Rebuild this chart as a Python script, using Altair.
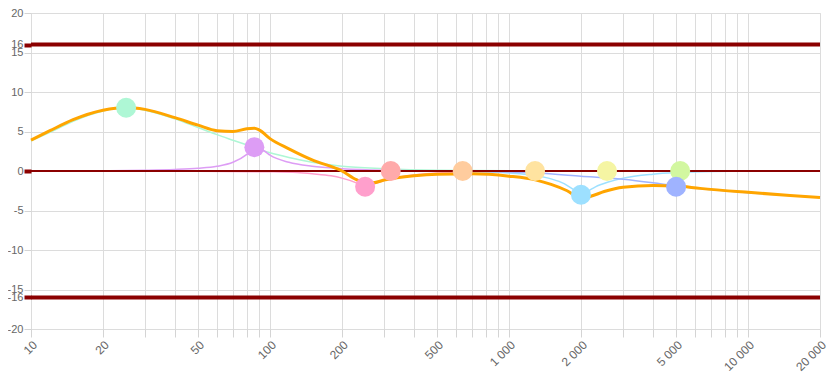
import altair as alt
import pandas as pd

# ---- data ----
band_names = ["b1", "b2", "b3", "b4", "b5", "b6", "b7", "b8", "b9", "b10"]
band_colors = ["#aef7d5", "#dd9df5", "#ff9fcc", "#ffaaaa", "#ffcc9e",
               "#ffe3a0", "#9de0ff", "#f5f5a3", "#d2f7a0", "#9fb3ff"]
band_freq = [25, 86, 250, 320, 640, 1285, 2000, 2570, 5200, 5000]
band_gain = [8, 3, -2, 0, 0, 0, -3, 0, 0, -2]

b1_f = [10, 12, 15, 20, 25, 30, 40, 50, 60, 70, 80, 100, 120, 150, 200, 300, 500, 1000, 20000]
b1_g = [3.8, 4.9, 6.3, 7.6, 8.0, 7.7, 6.6, 5.5, 4.6, 3.9, 3.3, 2.3, 1.7, 1.1, 0.6, 0.3, 0.1, 0.03, 0]

b2_f = [10, 20, 30, 40, 50, 60, 70, 80, 86, 95, 100, 120, 150, 200, 300, 500, 20000]
b2_g = [0, 0.03, 0.1, 0.2, 0.35, 0.6, 1.1, 2.1, 3.0, 2.5, 2.0, 1.1, 0.6, 0.3, 0.1, 0.02, 0]

b3_f = [10, 50, 100, 130, 150, 180, 200, 230, 250, 275, 300, 350, 400, 500, 700, 1000, 20000]
b3_g = [0, -0.02, -0.1, -0.2, -0.35, -0.6, -0.9, -1.5, -2.0, -1.6, -1.2, -0.75, -0.5, -0.25, -0.1, -0.04, 0]

flat_f = [10, 20000]
flat_g = [0, 0]

b7_f = [10, 500, 800, 1000, 1300, 1500, 1700, 1850, 2000, 2150, 2300, 2600, 3000, 4000, 5000, 7000, 10000, 20000]
b7_g = [0, 0, -0.1, -0.25, -0.6, -1.0, -1.6, -2.3, -3.0, -2.5, -2.0, -1.4, -0.9, -0.4, -0.2, -0.05, 0, 0]

b10_f = [10, 300, 500, 700, 1000, 1300, 2000, 3000, 4000, 5000, 7000, 10000, 15000, 20000]
b10_g = [0, 0, -0.02, -0.05, -0.12, -0.25, -0.65, -1.05, -1.5, -1.9, -2.35, -2.75, -3.1, -3.35]

total_f = [10, 12, 15, 20, 25, 30, 40, 50, 60, 70, 80, 86, 90, 100, 120, 150, 200, 230, 250, 270,
           300, 400, 500, 700, 1000, 1300, 1500, 1750, 2000, 2200, 2500, 3000, 4000, 5000, 6300,
           10000, 15000, 20000]
total_g = [3.9, 5.1, 6.5, 7.7, 8.05, 7.8, 6.75, 5.8, 5.1, 5.0, 5.35, 5.4, 5.2, 4.1, 2.8, 1.4, 0.0,
           -1.1, -1.5, -1.5, -1.15, -0.6, -0.4, -0.35, -0.65, -1.15, -1.7, -2.5, -3.45, -3.2, -2.6,
           -2.05, -1.85, -1.9, -2.2, -2.7, -3.1, -3.35]

limit_lines = [16, -16]
zero_line = [0]

x_ticks = [10, 20, 30, 40, 50, 60, 70, 80, 90, 100, 200, 300, 400, 500, 600, 700, 800, 900,
           1000, 2000, 3000, 4000, 5000, 6000, 7000, 8000, 9000, 10000, 20000]
x_labeled = [10, 20, 50, 100, 200, 500, 1000, 2000, 5000, 10000, 20000]
y_ticks = [-20, -16, -15, -10, -5, 0, 5, 10, 15, 16, 20]

# ---- tables ----
curves = {
    "b1": (b1_f, b1_g), "b2": (b2_f, b2_g), "b3": (b3_f, b3_g),
    "b4": (flat_f, flat_g), "b5": (flat_f, flat_g), "b6": (flat_f, flat_g),
    "b7": (b7_f, b7_g), "b8": (flat_f, flat_g), "b9": (flat_f, flat_g),
    "b10": (b10_f, b10_g),
}
rows = []
for name, (fs, gs) in curves.items():
    for f, g in zip(fs, gs):
        rows.append({"band": name, "freq": f, "gain": g})
curve_df = pd.DataFrame(rows)
total_df = pd.DataFrame({"freq": total_f, "gain": total_g})
points_df = pd.DataFrame({"band": band_names, "freq": band_freq, "gain": band_gain,
                          "order": list(range(len(band_names)))})
limit_df = pd.DataFrame({"gain": limit_lines})
zero_df = pd.DataFrame({"gain": zero_line})

color_scale = alt.Scale(domain=band_names, range=band_colors)

x_scale = alt.Scale(type="log", domain=[10, 20000], nice=False)
y_scale = alt.Scale(domain=[-20, 20], nice=False)

red_test = "datum.value == 16 || datum.value == -16 || datum.value == 0"
labeled_js = "[" + ",".join(str(v) for v in x_labeled) + "]"

x_axis = alt.Axis(
    values=x_ticks, title=None, grid=True, gridColor="#dcdcdc", domain=False,
    tickColor="#d4d4d4", tickSize=8, labelAngle=-45, labelAlign="right",
    labelBaseline="top", labelPadding=2, labelFontSize=12, labelColor="#666666",
    labelFont="Liberation Sans", labelOverlap=False, labelFlush=False,
    labelExpr="indexof(" + labeled_js + ", datum.value) >= 0 ? replace(format(datum.value, ','), ',', ' ') : ''",
)
y_axis = alt.Axis(
    values=y_ticks, title=None, grid=True, gridColor="#dcdcdc", domain=False,
    tickColor={"condition": {"test": red_test, "value": "#8b0000"}, "value": "#d4d4d4"},
    tickWidth={"condition": {"test": red_test, "value": 4}, "value": 1},
    tickSize=7, labelPadding=1, labelFontSize=11, labelColor="#666666",
    labelFont="Liberation Sans", labelOverlap=False, labelFlush=False,
    labelExpr="'' + datum.value",
)

base_x = alt.X("freq:Q", scale=x_scale, axis=x_axis)
base_y = alt.Y("gain:Q", scale=y_scale, axis=y_axis)

limits = alt.Chart(limit_df).mark_rule(color="#8b0000", strokeWidth=4).encode(y=base_y)
zero = alt.Chart(zero_df).mark_rule(color="#8b0000", strokeWidth=2).encode(y=base_y)

band_lines = alt.Chart(curve_df).mark_line(strokeWidth=1.5, interpolate="monotone").encode(
    x=base_x, y=base_y,
    color=alt.Color("band:N", scale=color_scale, legend=None),
    detail="band:N",
    order=alt.Order("freq:Q"),
)
total_line = alt.Chart(total_df).mark_line(
    color="#ffa500", strokeWidth=3, interpolate="monotone").encode(
    x=base_x, y=base_y, order=alt.Order("freq:Q"))

points = alt.Chart(points_df).mark_circle(size=400, opacity=1).encode(
    x=base_x, y=base_y,
    color=alt.Color("band:N", scale=color_scale, legend=None),
    order=alt.Order("order:Q"),
)

chart = alt.layer(band_lines, limits, zero, total_line, points).properties(
    width=789, height=316,
    autosize=alt.AutoSizeParams(type="none"),
    padding={"left": 23, "top": 5, "right": 8, "bottom": 45},
).configure_view(stroke=None).configure(background="white")

chart.save("out.html", embed_options={"renderer": "svg", "actions": False})
